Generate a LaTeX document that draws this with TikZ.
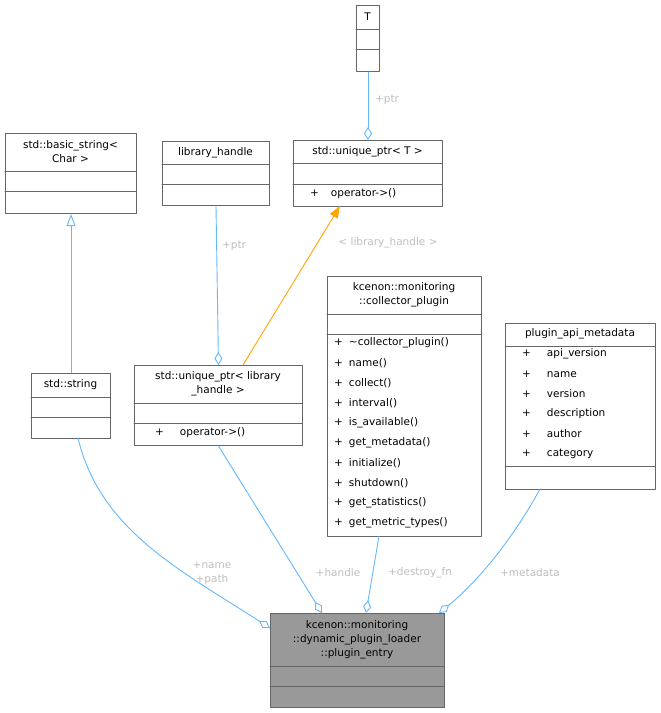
\documentclass[tikz,border=0pt]{standalone}
\usepackage{fontspec}
\setmainfont{DejaVu Sans}
\usetikzlibrary{arrows.meta}
\definecolor{edgeblue}{HTML}{63B8FF}
\definecolor{labgray}{HTML}{BEBEBE}
\definecolor{boxgray}{HTML}{666666}
\definecolor{tmplorange}{HTML}{FFA500}
\tikzset{
  box/.style={draw=boxgray,line width=1pt,fill=white,anchor=north west,inner sep=0pt},
  sep/.style={draw=boxgray,line width=1pt},
  txt/.style={font=\fontsize{10.5}{14}\selectfont,inner sep=0pt},
  lab/.style={txt,text=labgray,align=center},
  agg/.style={draw=edgeblue,line width=0.9pt,-{Diamond[open,length=13pt,width=8pt]}},
  inh/.style={draw=edgeblue,line width=0.9pt,-{Triangle[open,length=12pt,width=9pt]}},
  tmpl/.style={draw=tmplorange,line width=0.9pt,-{Triangle[length=12pt,width=9pt,fill=tmplorange]}}
}
% \umlbox[opts]{x1}{y1}{x2}{y2}{name}
\newcommand{\umlbox}[6][fill=white]{%
  \node[box,#1,minimum width=#4-#2,minimum height=#5-#3] (#6) at (#2,#3) {};}
\begin{document}
\begin{tikzpicture}[x=1pt,y=-1pt,line cap=round,line join=round]
\useasboundingbox (0,0) rectangle (661,713);

% boxes
\umlbox{356}{5}{379}{71}{T}
\draw[sep] (356,29) -- (379,29) (356,49) -- (379,49);
\node[txt] at (367.5,17) {T};

\umlbox{293}{140}{442}{206}{uT}
\draw[sep] (293,163) -- (442,163) (293,184) -- (442,184);
\node[txt] at (367.5,152) {std::unique\_ptr< T >};
\node[txt,anchor=west] at (310,194) {+\hspace{12pt}operator->()};

\umlbox{162}{141}{269}{205}{lh}
\draw[sep] (162,164) -- (269,164) (162,184) -- (269,184);
\node[txt] at (215.5,153) {library\_handle};

\umlbox{5}{133}{136}{213}{bs}
\draw[sep] (5,171) -- (136,171) (5,191) -- (136,191);
\node[txt,align=center] at (70.5,152) {std::basic\_string<\\Char >};

\umlbox{31}{373}{110}{438}{str}
\draw[sep] (31,397) -- (110,397) (31,417) -- (110,417);
\node[txt] at (70.5,385) {std::string};

\umlbox{134}{365}{302}{445}{ulh}
\draw[sep] (134,403) -- (302,403) (134,423) -- (302,423);
\node[txt,align=center] at (218,384) {std::unique\_ptr< library\\\_handle >};
\node[txt,anchor=west] at (155,433) {+\hspace{16pt}operator->()};

\umlbox{327}{276}{481}{536}{cp}
\draw[sep] (327,314) -- (481,314) (327,334) -- (481,334);
\node[txt,align=center] at (404,295) {kcenon::monitoring\\::collector\_plugin};
\foreach \m [count=\i from 0] in {\textasciitilde collector\_plugin(),name(),collect(),interval(),
  is\_available(),get\_metadata(),initialize(),shutdown(),get\_statistics(),get\_metric\_types()}
  \node[txt,anchor=west] at (334,343+20*\i) {+\hspace{6pt}\m};

\umlbox{505}{323}{655}{489}{md}
\draw[sep] (505,346) -- (655,346) (505,466) -- (655,466);
\node[txt] at (580,334) {plugin\_api\_metadata};
\foreach \m [count=\i from 0] in {api\_version,name,version,description,author,category}
  \node[txt,anchor=west] at (522,354+20*\i) {+\hspace{16pt}\m};

\umlbox[fill=black!40]{270}{613}{444}{707}{pe}
\draw[sep] (270,666) -- (444,666) (270,686) -- (444,686);
\node[txt,align=center] at (357,640) {kcenon::monitoring\hspace{14pt}\\::dynamic\_plugin\_loader\\::plugin\_entry};

% connectors
\draw[agg] (T.south) -- (uT.north);
\node[lab] at (387,100) {+ptr};
\draw[agg] (lh.south) -- (ulh.north);
\node[lab] at (234,246) {+ptr};
\draw[tmpl] (243,365) -- (340,206);
\node[lab] at (388,243) {< library\_handle >};
\draw[inh] (str.north) -- (bs.south);
\draw[agg] (78,438) .. controls (100,530) and (180,570) .. (270,628);
\node[lab] at (212,573) {+name\\+path};
\draw[agg] (ulh.south) -- (322,613);
\node[lab] at (338,573) {+handle};
\draw[agg] (379,536) -- (366,613);
\node[lab] at (420,573) {+destroy\_fn};
\draw[agg] (540,489) .. controls (515,535) and (480,580) .. (439,613);
\node[lab] at (530,573) {+metadata};
\end{tikzpicture}
\end{document}
